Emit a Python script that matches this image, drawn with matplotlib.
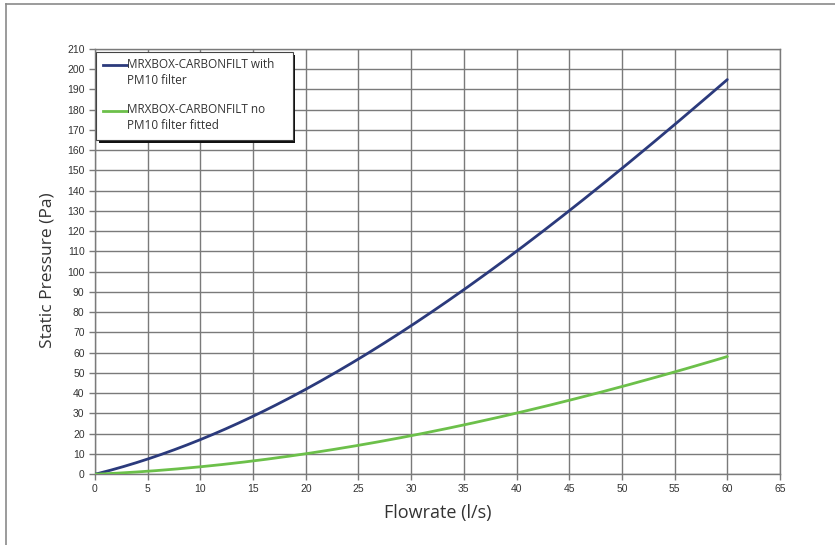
import matplotlib
matplotlib.use("Agg")
import matplotlib.pyplot as plt
from matplotlib.patches import Rectangle
from matplotlib.lines import Line2D
import numpy as np

# flowrate (l/s) vs static pressure (Pa)
flowrate = [0, 5, 10, 15, 20, 25, 30, 35, 40, 45, 50, 55, 60]
pressure_with_pm10 = [0, 7.5, 17, 28, 41.5, 57, 74, 91, 110.5, 130, 150.5, 172, 195.5]
pressure_no_pm10 = [0, 1.3, 3.4, 6.3, 10.2, 14.3, 19.2, 24, 30, 36.3, 43.3, 50.5, 58]

labels = ["MRXBOX-CARBONFILT with\nPM10 filter",
          "MRXBOX-CARBONFILT no\nPM10 filter fitted"]
colors = ["#2b3a7c", "#6cc04a"]

x_ticks = list(range(0, 66, 5))
y_ticks = list(range(0, 211, 10))

W, H = 835, 545
fig = plt.figure(figsize=(W / 100, H / 100), dpi=100)
ax = fig.add_axes([95 / W, 1 - 474 / H, 685 / W, 425 / H])

# smooth the curves through the read points
xs = np.linspace(0, 60, 200)
for ys, c in zip([pressure_with_pm10, pressure_no_pm10], colors):
    coef = np.polyfit(flowrate, ys, 3)
    yy = np.polyval(coef, xs)
    yy[0] = 0
    ax.plot(xs, yy, color=c, lw=2.0, solid_capstyle="round", zorder=3)

ax.set_xlim(0, 65)
ax.set_ylim(0, 210)
ax.set_xticks(x_ticks)
ax.set_yticks(y_ticks)
ax.grid(True, color="#7a7a7a", lw=1.0)
ax.set_axisbelow(True)
for s in ax.spines.values():
    s.set_color("#7a7a7a")
    s.set_linewidth(1.0)
ax.tick_params(direction="out", length=4, width=1, color="#7a7a7a",
               labelsize=7.5, labelcolor="#333333")
for lab in ax.get_xticklabels() + ax.get_yticklabels():
    lab.set_fontfamily("Liberation Sans")

ax.set_xlabel("Flowrate (l/s)", fontsize=13, family="Open Sans", color="#333333", labelpad=7)
ax.set_ylabel("Static Pressure (Pa)", fontsize=12.5, family="Open Sans", color="#333333")
ax.yaxis.set_label_coords(-0.058, 0.48)

# legend box with a hard shadow
bx0, by0, bw, bh = 0.0015, 0.786, 0.287, 0.207
ax.add_patch(Rectangle((bx0 + 0.004, by0 - 0.006), bw, bh, transform=ax.transAxes,
                       facecolor="#111111", edgecolor="none", zorder=4, clip_on=False))
ax.add_patch(Rectangle((bx0, by0), bw, bh, transform=ax.transAxes,
                       facecolor="white", edgecolor="#444444", lw=0.8, zorder=5, clip_on=False))
for i, (lab, c) in enumerate(zip(labels, colors)):
    ty = 0.962 - i * 0.107
    ax.add_line(Line2D([0.012, 0.047], [ty, ty], transform=ax.transAxes,
                       color=c, lw=2.0, zorder=6))
    ax.text(0.047, ty + 0.018, lab, transform=ax.transAxes, fontsize=8.5,
            family="Open Sans", color="#333333", va="top", ha="left",
            linespacing=1.35, zorder=6)

# outer frame (left and top)
fig.add_artist(Line2D([6 / W, 6 / W], [0, 1 - 4 / H], transform=fig.transFigure,
                      color="#8a8a8a", lw=1.2))
fig.add_artist(Line2D([6 / W, 1], [1 - 4 / H, 1 - 4 / H], transform=fig.transFigure,
                      color="#8a8a8a", lw=1.2))

fig.savefig("out.png", dpi=100)
